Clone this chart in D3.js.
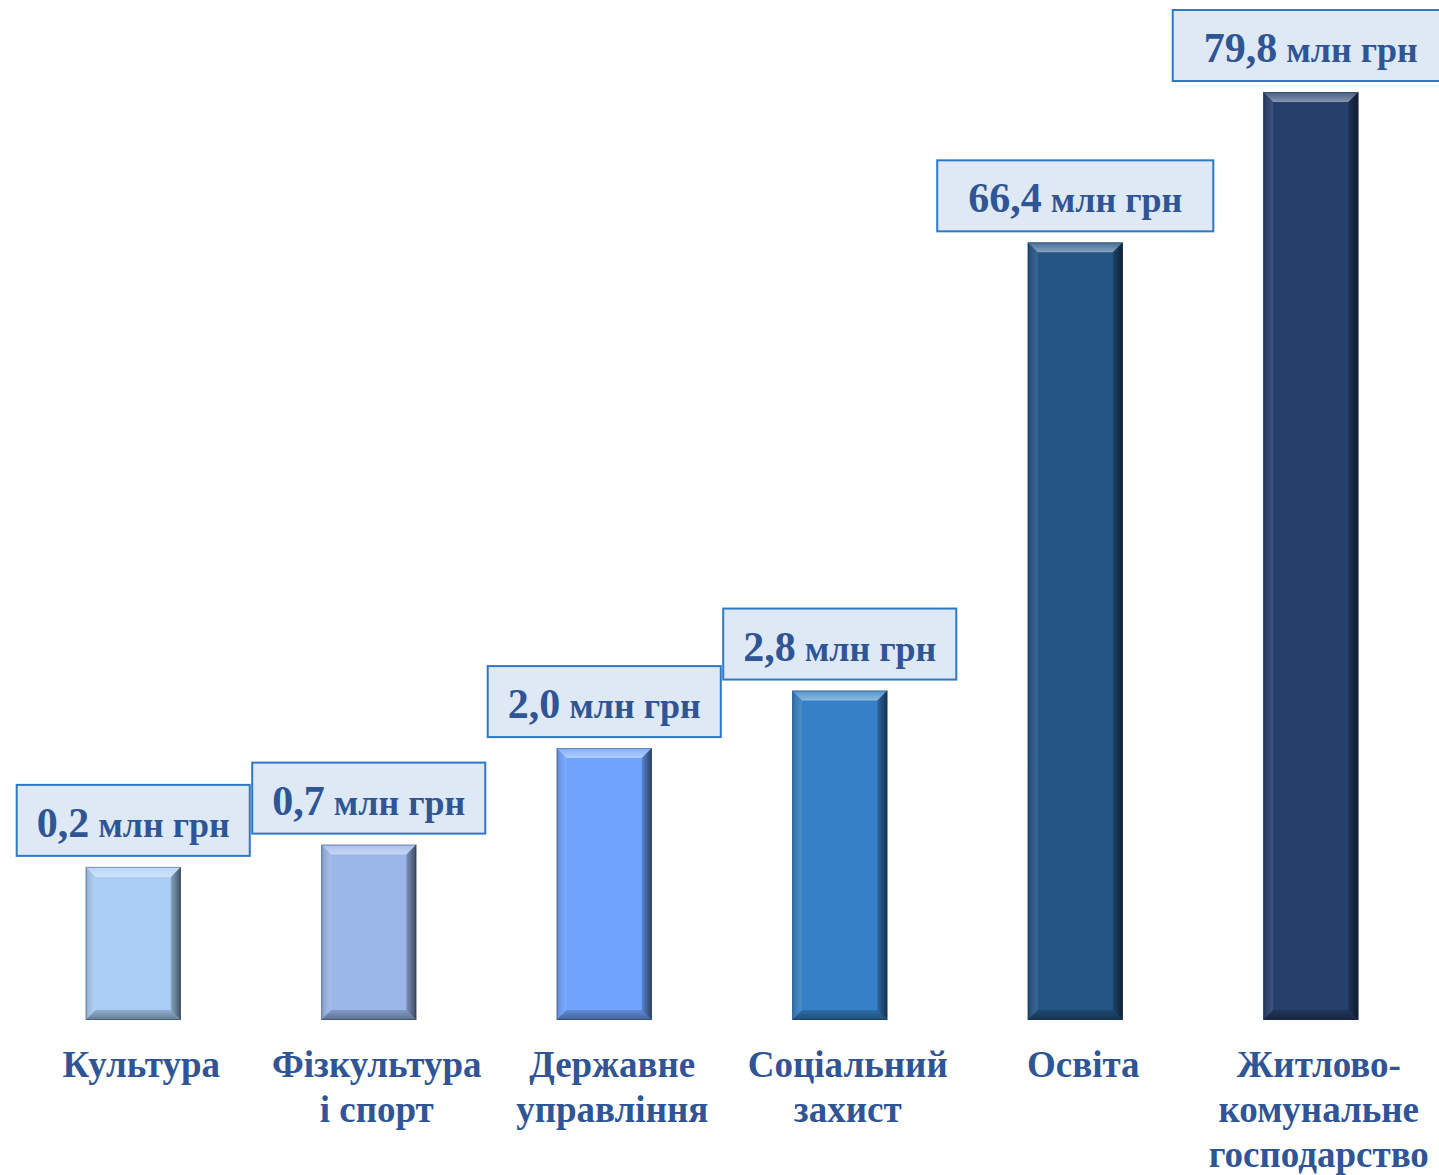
<!DOCTYPE html>
<html>
<head>
<meta charset="utf-8">
<script src="https://cdn.jsdelivr.net/npm/d3@7"></script>
<style>
  body { margin: 0; background: #fff; overflow: hidden; }
  svg { display: block; }
</style>
</head>
<body>
<div id="chart"></div>
<script>
/* -----------------------
data
------------------------- */

var categories = ["Культура", "Фізкультура і спорт", "Державне управління", "Соціальний захист", "Освіта", "Житлово-комунальне господарство"];
var labelLines = [["Культура"], ["Фізкультура", "і спорт"], ["Державне", "управління"], ["Соціальний", "захист"], ["Освіта"], ["Житлово-", "комунальне", "господарство"]];
var values = [0.2, 0.7, 2.0, 2.8, 66.4, 79.8];
var valueText = ["0,2", "0,7", "2,0", "2,8", "66,4", "79,8"];
var unit = "млн грн";
var colors = ["#a9cdf3", "#9bb6e9", "#6fa3fe", "#3580c6", "#245585", "#263f6b"];

/* -----------------------
main variables
------------------------- */

var width = 1439, height = 1175;
var baseY = 1020, topY = 92;
var textColor = "#2f5597";
var serif = "'Liberation Serif', 'Times New Roman', serif";

var svg = d3.select("#chart")
    .append("svg")
    .attr("width", width)
    .attr("height", height);

var x = d3.scaleBand()
    .domain(categories)
    .range([15, 1429])
    .paddingInner(0.596)
    .paddingOuter(0.3);

// the picture is not to scale: a broken (polylinear) value axis
var level = d3.scaleLinear()
    .domain([0, 0.2, 0.7, 2.0, 2.8, 66.4, 79.8])
    .range([0, 0.165, 0.189, 0.293, 0.355, 0.838, 1]);

var y = function(v) { return baseY - level(v) * (baseY - topY); };

/* -----------------------
bars
------------------------- */

var bev = 10;
var defs = svg.append("defs");

var bars = svg.append("g").selectAll("g")
    .data(values)
    .enter().append("g");

bars.append("rect")
    .attr("x", function(d, i) { return x(categories[i]); })
    .attr("y", function(d) { return y(d); })
    .attr("width", x.bandwidth())
    .attr("height", function(d) { return baseY - y(d); })
    .attr("fill", function(d, i) { return colors[i]; });

function bevel(d, i, side) {
    var x0 = x(categories[i]), x1 = x0 + x.bandwidth();
    var y0 = y(d), y1 = baseY;
    var p;
    if (side == "top") p = [[x0, y0], [x1, y0], [x1 - bev, y0 + bev], [x0 + bev, y0 + bev]];
    if (side == "left") p = [[x0, y0], [x0 + bev, y0 + bev], [x0 + bev, y1 - bev], [x0, y1]];
    if (side == "right") p = [[x1, y0], [x1, y1], [x1 - bev, y1 - bev], [x1 - bev, y0 + bev]];
    if (side == "bottom") p = [[x0, y1], [x0 + bev, y1 - bev], [x1 - bev, y1 - bev], [x1, y1]];
    return p.map(function(q) { return q.join(","); }).join(" ");
}

// soft gradients for the bevel faces
var grads = [
    ["g-top", 0, 0, 0, 1, "#fff", 0.15, "#fff", 0.45],
    ["g-left", 0, 0, 1, 0, "#000", 0.15, "#fff", 0.1],
    ["g-right", 0, 0, 1, 0, "#000", 0.2, "#000", 0.6],
    ["g-bottom", 0, 0, 0, 1, "#000", 0.15, "#000", 0.4]
];
grads.forEach(function(g) {
    var lg = defs.append("linearGradient").attr("id", g[0])
        .attr("x1", g[1]).attr("y1", g[2]).attr("x2", g[3]).attr("y2", g[4]);
    lg.append("stop").attr("offset", 0).attr("stop-color", g[5]).attr("stop-opacity", g[6]);
    lg.append("stop").attr("offset", 1).attr("stop-color", g[7]).attr("stop-opacity", g[8]);
});

["top", "left", "right", "bottom"].forEach(function(s) {
    bars.append("polygon")
        .attr("points", function(d, i) { return bevel(d, i, s); })
        .attr("fill", "url(#g-" + s + ")");
});

bars.append("rect")
    .attr("x", function(d, i) { return x(categories[i]) + 0.5; })
    .attr("y", function(d) { return y(d) + 0.5; })
    .attr("width", x.bandwidth() - 1)
    .attr("height", function(d) { return baseY - y(d) - 1; })
    .attr("fill", "none")
    .attr("stroke", "#1c2f4f")
    .attr("stroke-opacity", 0.4);

/* -----------------------
value boxes
------------------------- */

var boxes = svg.append("g").selectAll("g")
    .data(values)
    .enter().append("g");

boxes.append("rect")
    .attr("fill", "#dee9f5")
    .attr("stroke", "#2e78c8")
    .attr("stroke-width", 2);

var vt = boxes.append("text")
    .attr("font-family", serif)
    .attr("font-weight", "bold")
    .attr("fill", textColor)
    .attr("text-anchor", "middle");

vt.append("tspan").attr("font-size", 42).text(function(d, i) { return valueText[i]; });
vt.append("tspan").attr("font-size", 36).text(" " + unit);

boxes.each(function(d, i) {
    var g = d3.select(this);
    var tw = g.select("text").node().getComputedTextLength();
    var bw = tw + (d >= 10 ? 62 : 40), bh = 71;
    var cx = x(categories[i]) + x.bandwidth() / 2;
    var left = cx - bw / 2;
    var bottom = y(d) - 11;
    g.select("rect")
        .attr("x", left).attr("y", bottom - bh)
        .attr("width", bw).attr("height", bh);
    g.select("text")
        .attr("x", cx)
        .attr("y", bottom - 19);
});

/* -----------------------
category labels
------------------------- */

var labels = svg.append("g").selectAll("text")
    .data(labelLines)
    .enter().append("text")
    .attr("font-family", serif)
    .attr("font-weight", "bold")
    .attr("font-size", 37)
    .attr("fill", textColor)
    .attr("text-anchor", "middle")
    .attr("transform", function(d, i) {
        return "translate(" + (x(categories[i]) + x.bandwidth() / 2 + 8) + "," + 1077 + ")";
    });

labels.selectAll("tspan")
    .data(function(d) { return d; })
    .enter().append("tspan")
    .attr("x", 0)
    .attr("y", function(d, j) { return j * 45; })
    .text(function(d) { return d; });
</script>
</body>
</html>
